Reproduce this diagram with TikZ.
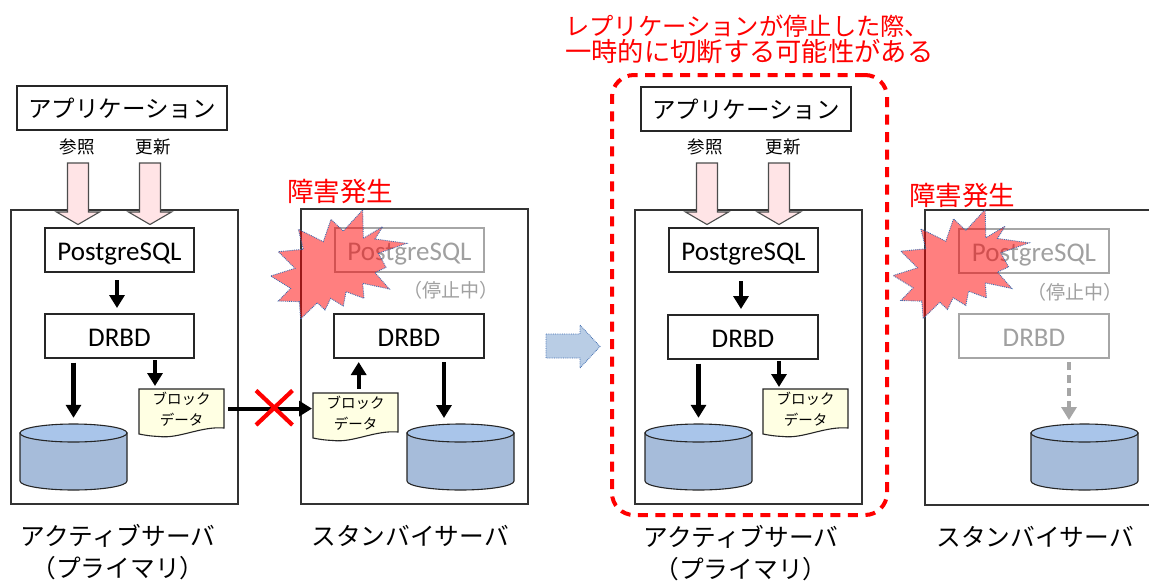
\documentclass[tikz,border=0pt]{standalone}
\usepackage{fontspec}
\setmainfont{Carlito}
\newfontfamily\jp{Noto Sans CJK JP}
\usetikzlibrary{arrows.meta}
\definecolor{gtxt}{HTML}{A0A0A0}
\definecolor{gline}{HTML}{A6A6A6}
\definecolor{cylbody}{HTML}{A6BCDA}
\definecolor{cyltop}{HTML}{A9C5EA}
\definecolor{docfill}{HTML}{FFFFE3}
\definecolor{pinkfill}{HTML}{FFE4E6}
\definecolor{burstline}{HTML}{3F6CB0}
\definecolor{trans}{HTML}{B9CDE5}
\newcommand{\fs}[1]{\fontsize{#1}{#1}\selectfont}
\tikzset{
  x=1pt,y=-1pt,
  box/.style={draw=black!85,line width=1.1pt,fill=white,inner sep=0pt,font=\fs{27},text height=22pt,text depth=2pt},
  graybox/.style={draw=gline,line width=1.1pt,fill=white,inner sep=0pt,text=gtxt,font=\fs{27},text height=22pt,text depth=2pt},
  server/.style={draw=black!80,line width=1.1pt,inner sep=0pt},
  appbox/.style={draw=black!85,line width=1.1pt,fill=white,inner sep=0pt,font=\jp\fs{23.5}},
  lbl/.style={inner sep=0pt,font=\jp\fs{17.5}},
  captext/.style={inner sep=0pt,font=\jp\fs{24.7}},
  redt/.style={inner sep=0pt,text=red,font=\jp\fs{24.3}},
  redb/.style={inner sep=0pt,text=red,font=\jp\fs{26.5}},
  dt/.style={inner sep=0pt,font=\jp\fs{14.5}},
  gl/.style={inner sep=0pt,text=gtxt,font=\jp\fs{19}},
  arr/.style={line width=4.1pt,-{Triangle[length=13pt,width=15pt]}},
  darr/.style={arr,draw=gline,color=gline,dash pattern=on 8pt off 5pt},
  cylb/.style={draw=black!85,line width=1.1pt,fill=cylbody},
  cylt/.style={draw=black!85,line width=1.1pt,fill=cyltop},
  docb/.style={draw=black!85,line width=1.1pt,fill=docfill},
  barr/.style={draw=black!70,line width=1.1pt,fill=pinkfill},
  burststyle/.style={fill=red,fill opacity=.5,draw=burstline,line width=.9pt,densely dotted},
}
% cylinder: name, left x, top y (of the ellipse top)
\newcommand{\mycyl}[3]{%
  \path[cylb] (#2,#3+9) -- (#2,#3+57) arc[x radius=53.5,y radius=9,start angle=180,end angle=0]
     -- (#2+107,#3+9) -- cycle;
  \path[cylt] (#2+53.5,#3+9) ellipse[x radius=53.5,y radius=9];
  \node[inner sep=0pt,minimum width=107pt,minimum height=66pt] (#1) at (#2+53.5,#3+33) {};
}
% document: name, left x, top y
\newcommand{\mydoc}[3]{%
  \path[docb] (#2,#3) -- (#2+85,#3) -- (#2+85,#3+39)
    .. controls (#2+62,#3+37) and (#2+40,#3+50) .. (#2+20,#3+47.5)
    .. controls (#2+10,#3+47) and (#2+5,#3+46) .. (#2,#3+45) -- cycle;
  \node[dt,align=center] (#1) at (#2+42.5,#3+20) {\jp ブロック\\[6pt]データ};
}
% block arrow: tip x
\newcommand{\myblock}[1]{%
  \path[barr] (#1-10.5,163) -- (#1+10.5,163) -- (#1+10.5,212) -- (#1+21.5,212)
    -- (#1,224.5) -- (#1-21.5,212) -- (#1-10.5,212) -- cycle;
}
% burst, with shift
\newcommand{\myburst}[2]{%
  \begin{scope}[shift={(#1,#2)},x=.3333pt,y=-.3333pt]
  \path[burststyle] (308,120)--(310,205)--(368,170)--(345,207)--(440,220)--(355,250)--(378,292)--(345,308)--(388,357)--(308,340)--(312,385)--(258,365)--(250,408)--(212,385)--(195,420)--(172,398)--(122,447)--(118,395)--(55,393)--(92,355)--(32,318)--(105,295)--(55,245)--(130,238)--(115,178)--(190,215)--(213,148)--(250,183)--cycle;
  \end{scope}
}
\begin{document}
\begin{tikzpicture}
\clip (0,0) rectangle (1149,582);
\fill[white] (0,0) rectangle (1149,582);

% ---------- servers
\node[server,minimum width=227pt,minimum height=294pt] (s1) at (124.5,357) {};
\node[server,minimum width=227pt,minimum height=295pt] (s2) at (414.5,356.5) {};
\node[server,minimum width=227pt,minimum height=294pt] (s3) at (748.5,357) {};
\node[server,minimum width=230pt,minimum height=295pt] (s4) at (1040,357.5) {};

% ---------- left pair
\node[appbox,minimum width=210pt,minimum height=44pt] (app1) at (122,108) {アプリケーション};
\node[lbl] (ref1) at (77,147) {参照};
\node[lbl] (upd1) at (153,147) {更新};
\myblock{78}\myblock{150}
\node[box,minimum width=149pt,minimum height=44pt] (pg1) at (119.5,250) {PostgreSQL};
\node[box,minimum width=149pt,minimum height=44pt] (dr1) at (119.5,336) {DRBD};
\coordinate (p1a) at (117,280);
\coordinate (p1b) at (117,308);
\draw[arr] (p1a) -- (p1b);
\mycyl{cy1}{20}{424}
\mydoc{dc1}{139}{389}
\coordinate (d1a) at (155,360);
\coordinate (d1b) at (155,386);
\draw[arr,shorten <=4pt,shorten >=6pt] (dr1.south -| cy1) -- (cy1.north);
\draw[arr] (d1a) -- (d1b);

\node[graybox,minimum width=149pt,minimum height=44pt] (pg2) at (409.5,250) {PostgreSQL};
\node[gl] (stop2) at (451,290) {（停止中）};
\node[box,minimum width=150pt,minimum height=44pt] (dr2) at (409,336) {DRBD};
\mycyl{cy2}{407}{424}
\mydoc{dc2}{313}{393}
\coordinate (d2a) at (358.7,389);
\coordinate (d2b) at (358.7,362);
\draw[arr] (d2a) -- (d2b);
\coordinate (d2c) at (444,362);
\coordinate (d2d) at (444,418);
\draw[arr] (d2c) -- (d2d);
\coordinate (rep1) at (228,408.6);
\coordinate (rep2) at (312,408.6);
\draw[arr] (rep1) -- (rep2);
\coordinate (xa) at (256,390.5);\coordinate (xb) at (292.5,425);
\coordinate (xc) at (256,425);\coordinate (xd) at (292.5,390.5);
\draw[red,line width=4.2pt] (xa) -- (xb) (xc) -- (xd);
\myburst{260}{170}
\node[redb,anchor=west] (f1) at (287,191) {障害発生};
\node[captext] (c1) at (118,536) {アクティブサーバ};
\node[captext] (c1b) at (118,568) {（プライマリ）};
\node[captext] (c2) at (410,536) {スタンバイサーバ};

% ---------- transition
\path[fill=trans,draw=burstline,line width=.8pt,densely dotted] (546,334)--(580,334)--(580,325)--(600,346.5)--(580,368)--(580,358)--(546,358)--cycle;

% ---------- right pair
\node[appbox,minimum width=210pt,minimum height=44pt] (app3) at (746,109) {アプリケーション};
\node[lbl] (ref3) at (705,147) {参照};
\node[lbl] (upd3) at (783,147) {更新};
\myblock{707}\myblock{779}
\node[box,minimum width=149pt,minimum height=44pt] (pg3) at (743.5,250) {PostgreSQL};
\node[box,minimum width=150pt,minimum height=44pt] (dr3) at (743,337) {DRBD};
\coordinate (p3a) at (741,281);
\coordinate (p3b) at (741,309);
\draw[arr] (p3a) -- (p3b);
\mycyl{cy3}{645}{424}
\mydoc{dc3}{763}{389}
\coordinate (d3a) at (779,361);
\coordinate (d3b) at (779,387);
\draw[arr,shorten <=4pt,shorten >=6pt] (dr3.south -| cy3) -- (cy3.north);
\draw[arr] (d3a) -- (d3b);
\node[draw=red,line width=4pt,dash pattern=on 10pt off 7.5pt,rounded corners=22pt,inner sep=0pt,minimum width=275pt,minimum height=440pt] (fr) at (749.5,295) {};
\node[redt,anchor=west] (r1) at (565,26) {レプリケーションが停止した際、};
\node[redt,anchor=west,font=\jp\fs{26.3}] (r2) at (565,52) {一時的に切断する可能性がある};

\node[graybox,minimum width=150pt,minimum height=44pt] (pg4) at (1034,251) {PostgreSQL};
\node[gl] (stop4) at (1075,292) {（停止中）};
\node[graybox,minimum width=150pt,minimum height=44pt] (dr4) at (1034,336) {DRBD};
\mycyl{cy4}{1031}{424}
\coordinate (d4a) at (1069,362);
\coordinate (d4b) at (1069,420);
\draw[darr] (d4a) -- (d4b);
\myburst{882.5}{169.5}
\node[redb,anchor=west] (f4) at (909,195) {障害発生};
\node[captext] (c3) at (741,537) {アクティブサーバ};
\node[captext] (c3b) at (741,569) {（プライマリ）};
\node[captext] (c4) at (1035,537) {スタンバイサーバ};
\end{tikzpicture}
\end{document}
